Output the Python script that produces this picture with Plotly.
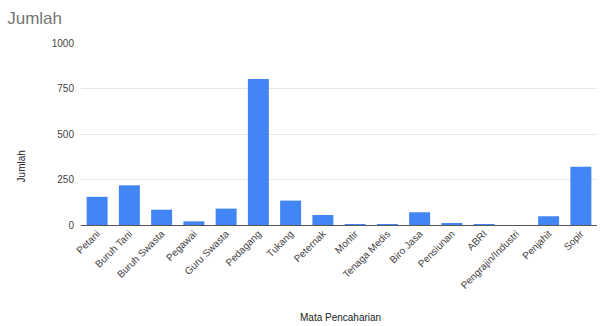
import plotly.graph_objects as go

categories = ["Petani", "Buruh Tani", "Buruh Swasta", "Pegawai", "Guru Swasta",
              "Pedagang", "Tukang", "Peternak", "Montir", "Tenaga Medis",
              "Biro Jasa", "Pensiunan", "ABRI", "Pengrajin/Industri", "Penjahit", "Sopir"]
values = [155, 218, 84, 20, 90, 802, 134, 55, 3, 3, 70, 7, 3, 0, 48, 320]
y_ticks = [0, 250, 500, 750, 1000]

W, H = 600, 326
L, R, T, B = 81, 597, 43, 225

fig = go.Figure(go.Bar(x=categories, y=values, marker_color="#4285F4",
                       marker_line_width=0))

fig.update_layout(
    width=W, height=H,
    margin=dict(l=L, r=W - R, t=T, b=H - B),
    paper_bgcolor="white", plot_bgcolor="white",
    bargap=0.35,
    showlegend=False,
    font=dict(family="Liberation Sans, Arial, sans-serif", size=10, color="#444444"),
    title=dict(text="Jumlah", x=0.012, xanchor="left", y=0.945, yanchor="middle",
               font=dict(size=17, color="#757575")),
    annotations=[
        dict(text="Mata Pencaharian", xref="paper", yref="paper", x=0.503, y=-0.51,
             xanchor="center", yanchor="middle", showarrow=False,
             font=dict(size=10, color="#222222")),
        dict(text="Jumlah", xref="paper", yref="paper", x=-0.115, y=0.32,
             xanchor="center", yanchor="middle", showarrow=False, textangle=-90,
             font=dict(size=10, color="#222222")),
    ],
)
fig.update_xaxes(range=[-0.5, 15.5], tickangle=-45, showgrid=False,
                 showline=False, ticks="", tickfont=dict(size=10, color="#444444"))
fig.update_yaxes(range=[0, 1000], tickvals=y_ticks, showgrid=True, gridcolor="#e6e6e6",
                 zeroline=True, zerolinecolor="#555555", zerolinewidth=1,
                 ticks="", ticklabelstandoff=6, tickfont=dict(size=10, color="#444444"))

fig.write_html("out.html")
